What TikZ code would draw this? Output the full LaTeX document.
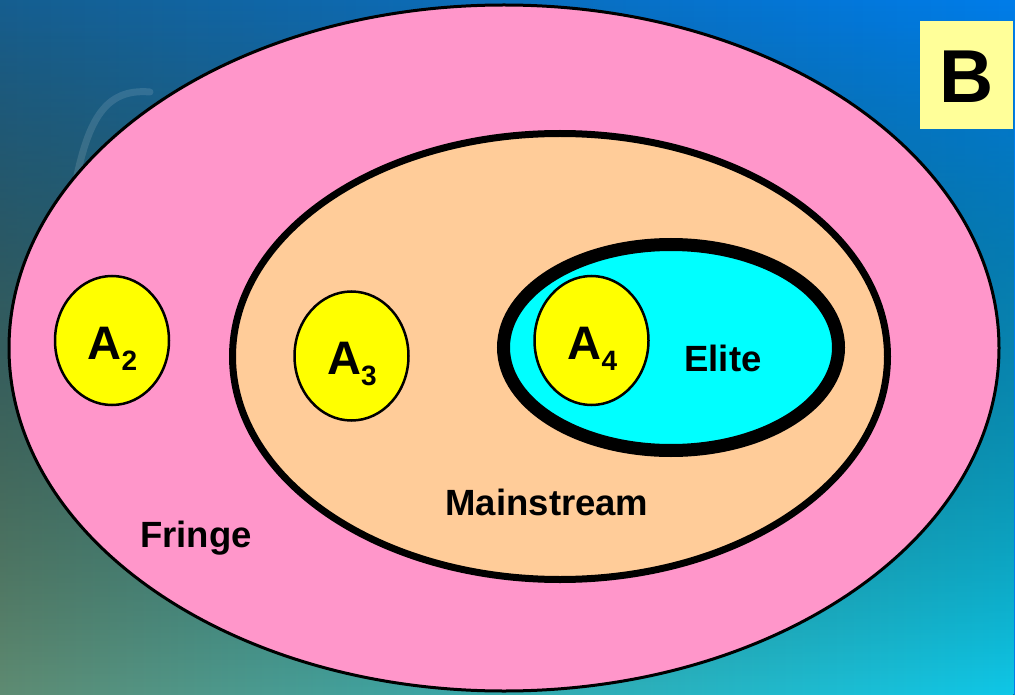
\documentclass[tikz,border=0pt]{standalone}
\usepackage{fontspec}
\setmainfont{Liberation Sans}
\usetikzlibrary{fadings}
\tikzfading[name=fadeup, top color=transparent!100, bottom color=transparent!0]
\definecolor{bgTL}{RGB}{22,95,145}
\definecolor{bgTM}{RGB}{10,85,185}
\definecolor{bgTR}{RGB}{0,125,235}
\definecolor{bgBL}{RGB}{95,140,115}
\definecolor{bgBM}{RGB}{100,170,150}
\definecolor{bgBR}{RGB}{15,200,232}
\definecolor{fringecol}{RGB}{255,150,202}
\definecolor{maincol}{RGB}{255,204,153}
\definecolor{elitecol}{RGB}{0,255,255}
\definecolor{acol}{RGB}{255,255,0}
\definecolor{bbox}{RGB}{255,255,153}
\newcommand{\Asub}[1]{A\raisebox{-11pt}{\fontsize{28}{28}\selectfont #1}}
\begin{document}
\begin{tikzpicture}[x=1pt,y=-1pt,
  fringe/.style={draw=black, fill=fringecol, line width=3pt},
  mainset/.style={draw=black, fill=maincol, line width=7pt},
  eliteset/.style={draw=black, fill=elitecol, line width=13pt},
  acircle/.style={draw=black, fill=acol, line width=2.5pt},
  alabel/.style={anchor=base, inner sep=0pt, font=\bfseries\fontsize{47}{50}\selectfont},
  setlabel/.style={anchor=base, inner sep=0pt, font=\bfseries\fontsize{36.5}{40}\selectfont}]
\useasboundingbox (0,0) rectangle (1015,695);
% background
\fill[left color=bgTL, middle color=bgTM, right color=bgTR] (0,0) rectangle (1015,695);
\fill[left color=bgBL, middle color=bgBM, right color=bgBR, path fading=fadeup] (0,0) rectangle (1015,695);
\draw[white, opacity=0.12, line width=7pt, line cap=round] (75,185) .. controls (88,120) and (105,88) .. (150,92);
% sets
\draw[fringe] (504,348) ellipse [x radius=495pt, y radius=343pt];
\draw[mainset] (560,356.5) ellipse [x radius=327.5pt, y radius=223pt];
\draw[eliteset] (671,347.5) ellipse [x radius=167.5pt, y radius=103pt];
% A circles
\draw[acircle] (112,340.5) ellipse [x radius=57pt, y radius=64.5pt];
\draw[acircle] (351.5,356) ellipse [x radius=57pt, y radius=64.5pt];
\draw[acircle] (591.5,340.5) ellipse [x radius=57pt, y radius=64.5pt];
\node[alabel] (a2) at (112.5,359) {\Asub{2}};
\node[alabel] (a3) at (352,374.5) {\Asub{3}};
\node[alabel] (a4) at (592.5,359) {\Asub{4}};
% set labels
\node[setlabel] (fringe) at (196,547) {Fringe};
\node[setlabel] (mainstream) at (547,515) {Mainstream};
\node[setlabel] (elite) at (723,371) {Elite};
% B box
\fill[bbox] (920,21) rectangle (1013,129);
\node[anchor=base, inner sep=0pt, font=\bfseries\fontsize{75}{80}\selectfont] (b) at (966.5,103) {B};
\end{tikzpicture}
\end{document}
